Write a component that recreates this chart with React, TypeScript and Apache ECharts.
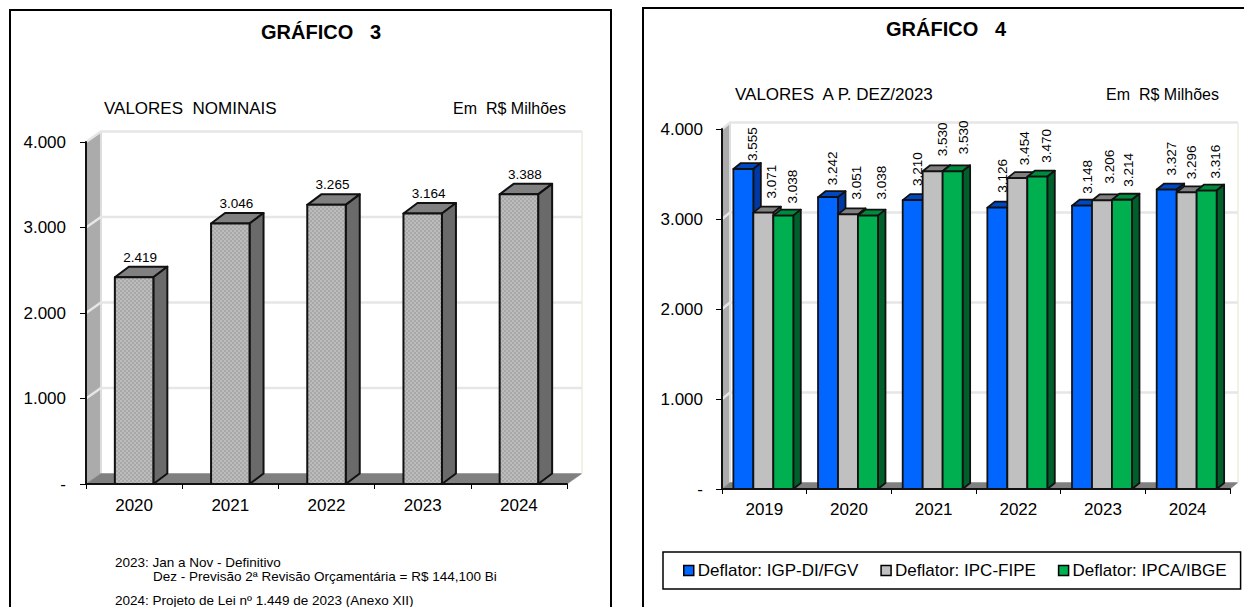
import React, { useEffect, useRef } from "react";
import * as echarts from "echarts";

const yearsNominal = ["2020", "2021", "2022", "2023", "2024"];
const valuesNominal = [2419, 3046, 3265, 3164, 3388];

const yearsReal = ["2019", "2020", "2021", "2022", "2023", "2024"];
const igpDi = [3555, 3242, 3210, 3126, 3148, 3327];
const ipcFipe = [3071, 3051, 3530, 3454, 3206, 3296];
const ipcaIbge = [3038, 3038, 3530, 3470, 3214, 3316];

const yTicks = [0, 1000, 2000, 3000, 4000];

// The reference's rotated labels were placed by hand: small per-label nudges (px).
const igpNudgeX = [9, 4, 5, 5, 5, 5];
const igpGap = [8, 12, 14, 15, 12, 14];
const ipcNudgeX = [8, 8, 10, 7, 7, 5];
const ipcGap = [14, 15, 15, 13, 17, 13];
const ipcaNudgeX = [9, 14, 11, 9, 7, 9];
const ipcaGap = [12, 16, 17, 14, 13, 12];

const FONT = '"Liberation Sans", Arial, sans-serif';
const fmt = (v: number) => (v === 0 ? "-" : String(v).replace(/\B(?=(\d{3})+$)/g, "."));

function dotPattern() {
  const c = document.createElement("canvas");
  c.width = 4;
  c.height = 4;
  const g = c.getContext("2d")!;
  g.fillStyle = "#a8a8a8";
  g.fillRect(0, 0, 4, 4);
  g.fillStyle = "#bcbcbc";
  g.fillRect(0, 0, 2, 2);
  g.fillRect(2, 2, 2, 2);
  return { image: c, repeat: "repeat" };
}

const poly = (points: number[][], fill: any, stroke: string, lineWidth: number) => ({
  type: "polygon",
  shape: { points },
  style: { fill, stroke, lineWidth, lineJoin: "round" },
});

function wallSeries(gridIndex: number, dx: number, dy: number) {
  return {
    type: "custom",
    xAxisIndex: gridIndex,
    yAxisIndex: gridIndex,
    z: 1,
    silent: true,
    clip: false,
    data: [[0, 0]],
    encode: { x: 0, y: 1 },
    renderItem: (params: any, api: any) => {
      const cs = params.coordSys;
      const L = cs.x;
      const R = cs.x + cs.width;
      const T = cs.y;
      const B = cs.y + cs.height;
      const children: any[] = [];
      children.push(poly([[L, T], [L + dx, T - dy], [L + dx, B - dy], [L, B]], "#ababab", "#a0a0a0", 0.5));
      children.push({
        type: "line",
        shape: { x1: L + dx, y1: T - dy, x2: L + dx, y2: B - dy },
        style: { stroke: "#dddddd", lineWidth: 2 },
      });
      children.push(poly([[L, B], [L + dx, B - dy], [R + dx, B - dy], [R, B]], "#808080", "#808080", 0.5));
      children.push({
        type: "line",
        shape: { x1: R + dx, y1: T - dy, x2: R + dx, y2: B - dy },
        style: { stroke: "#f1f1e6", lineWidth: 2 },
      });
      yTicks.slice(1).forEach((t) => {
        const y = api.coord([0, t])[1];
        children.push({
          type: "polyline",
          shape: { points: [[L, y], [L + dx, y - dy], [R + dx, y - dy]] },
          style: { stroke: "#e6e6e6", lineWidth: 2.5, fill: "none" },
        });
      });
      return { type: "group", children };
    },
  };
}

function barSeries(o: {
  name: string;
  values: number[];
  gridIndex: number;
  slot: number;
  slots: number;
  ratio: number;
  shift: number;
  dx: number;
  dy: number;
  front: any;
  legendColor: string;
  top: string;
  side: string;
  lineWidth: number;
  nudgeX?: number[];
  gap?: number[];
}) {
  return {
    type: "custom",
    name: o.name,
    xAxisIndex: o.gridIndex,
    yAxisIndex: o.gridIndex,
    z: 3,
    clip: false,
    silent: true,
    itemStyle: { color: o.legendColor },
    data: o.values.map((v, i) => [i, v]),
    encode: { x: 0, y: 1 },
    renderItem: (p: any, api: any) => {
      const v = api.value(1);
      const i = p.dataIndex;
      const [cx, top] = api.coord([api.value(0), v]);
      const base = api.coord([api.value(0), 0])[1];
      const band = api.size([1, 0])[0];
      const w = band * o.ratio;
      const x0 = cx + o.shift - (o.slots * w) / 2 + o.slot * w;
      const x1 = x0 + w;
      const { dx, dy } = o;
      const label = o.nudgeX
        ? {
            type: "text",
            x: (x0 + x1) / 2 + o.nudgeX[i],
            y: top - o.gap![i],
            rotation: Math.PI / 2,
            style: { text: fmt(v), font: `13.5px ${FONT}`, fill: "#000", align: "left", verticalAlign: "middle" },
          }
        : {
            type: "text",
            x: (x0 + x1) / 2 + 6,
            y: top - 20,
            style: { text: fmt(v), font: `13.5px ${FONT}`, fill: "#000", align: "center", verticalAlign: "middle" },
          };
      return {
        type: "group",
        children: [
          label,
          poly([[x0, top], [x0 + dx, top - dy], [x1 + dx, top - dy], [x1, top]], o.top, "#111", o.lineWidth),
          poly([[x1, top], [x1 + dx, top - dy], [x1 + dx, base - dy], [x1, base]], o.side, "#111", o.lineWidth),
          poly([[x0, top], [x1, top], [x1, base], [x0, base]], o.front, "#111", o.lineWidth),
        ],
      };
    },
  };
}

const xAxisBase = (gridIndex: number, data: string[], margin: number) => ({
  type: "category",
  gridIndex,
  data,
  z: 4,
  axisLine: { show: true, onZero: false, lineStyle: { color: "#111", width: 2 } },
  axisTick: { show: true, length: 5, lineStyle: { color: "#000" } },
  axisLabel: { color: "#000", fontFamily: FONT, fontSize: 17, margin },
  splitLine: { show: false },
});

const yAxisBase = (gridIndex: number, margin: number) => ({
  type: "value",
  gridIndex,
  min: 0,
  max: 4000,
  interval: 1000,
  z: 4,
  axisLine: { show: true, lineStyle: { color: "#111", width: 2 } },
  axisTick: { show: true, length: 6, lineStyle: { color: "#000" } },
  axisLabel: { color: "#000", fontFamily: FONT, fontSize: 17, margin, formatter: fmt },
  splitLine: { show: false },
});

const text = (x: number, y: number, t: string, size = 17, align = "left") => ({
  type: "text",
  x,
  y,
  silent: true,
  style: { text: t, font: `${size}px ${FONT}`, fill: "#000", align, verticalAlign: "middle" },
});

const frame = (x: number, y: number, w: number) => ({
  type: "rect",
  z: -1,
  shape: { x, y, width: w, height: 620 },
  style: { fill: "#fff", stroke: "#000", lineWidth: 2 },
});

export default function App() {
  const ref = useRef<HTMLDivElement>(null);
  useEffect(() => {
    document.body.style.margin = "0";
    const chart = echarts.init(ref.current!, undefined, { renderer: "svg" });
    const pattern = dotPattern();
    const commonLeft = { gridIndex: 0, ratio: 0.4, shift: 0, dx: 14, dy: 10.5, lineWidth: 2 };
    const commonRight = { gridIndex: 1, ratio: 0.236, shift: -1, dx: 7.5, dy: 6, slots: 3, lineWidth: 1.8 };
    const titleStyle = { fontFamily: FONT, fontWeight: "bold", fontSize: 20, color: "#000" };
    chart.setOption({
      animation: false,
      backgroundColor: "#fff",
      title: [
        { text: "GRÁFICO   3", left: 316, top: 17, textAlign: "center", textStyle: titleStyle },
        { text: "GRÁFICO   4", left: 941, top: 14, textAlign: "center", textStyle: titleStyle },
      ],
      grid: [
        { left: 86, top: 142, width: 481, height: 342 },
        { left: 722, top: 129, width: 508, height: 360 },
      ],
      xAxis: [xAxisBase(0, yearsNominal, 13), xAxisBase(1, yearsReal, 12)],
      yAxis: [yAxisBase(0, 20), yAxisBase(1, 19)],
      legend: {
        left: 663,
        top: 552,
        data: ["Deflator: IGP-DI/FGV", "Deflator: IPC-FIPE", "Deflator: IPCA/IBGE"],
        icon: "rect",
        itemWidth: 10,
        itemHeight: 10,
        itemGap: 22,
        padding: [10, 14, 10, 20],
        borderColor: "#000",
        borderWidth: 1.5,
        itemStyle: { borderColor: "#000", borderWidth: 1.5 },
        textStyle: { fontFamily: FONT, fontSize: 17, color: "#000", padding: [2, 0, 0, -1] },
      },
      graphic: [
        frame(10, 10, 601),
        frame(643, 8, 620),
        text(104, 108, "VALORES  NOMINAIS"),
        text(566, 108, "Em  R$ Milhões", 16, "right"),
        text(115, 562, "2023: Jan a Nov - Definitivo", 13.5),
        text(153, 576, "Dez - Previsão 2ª Revisão Orçamentária = R$ 144,100 Bi", 13.5),
        text(115, 600, "2024: Projeto de Lei nº 1.449 de 2023 (Anexo XII)", 13.5),
        text(735, 94, "VALORES  A P. DEZ/2023"),
        text(1219, 94, "Em  R$ Milhões", 16, "right"),
      ],
      series: [
        wallSeries(0, 15, 10.5),
        wallSeries(1, 8, 6.5),
        barSeries({
          ...commonLeft,
          name: "Valores nominais",
          values: valuesNominal,
          slot: 0,
          slots: 1,
          front: pattern,
          legendColor: "#a8a8a8",
          top: "#808080",
          side: "#6a6a6a",
        }),
        barSeries({
          ...commonRight,
          name: "Deflator: IGP-DI/FGV",
          values: igpDi,
          slot: 0,
          nudgeX: igpNudgeX,
          gap: igpGap,
          front: "#0066ff",
          legendColor: "#0066ff",
          top: "#0047c0",
          side: "#0039a6",
        }),
        barSeries({
          ...commonRight,
          name: "Deflator: IPC-FIPE",
          values: ipcFipe,
          slot: 1,
          nudgeX: ipcNudgeX,
          gap: ipcGap,
          front: "#c0c0c0",
          legendColor: "#c0c0c0",
          top: "#808080",
          side: "#606060",
        }),
        barSeries({
          ...commonRight,
          name: "Deflator: IPCA/IBGE",
          values: ipcaIbge,
          slot: 2,
          nudgeX: ipcaNudgeX,
          gap: ipcaGap,
          front: "#00b050",
          legendColor: "#00b050",
          top: "#008a3e",
          side: "#00602c",
        }),
      ],
    });
    return () => chart.dispose();
  }, []);
  return <div ref={ref} style={{ position: "absolute", left: 0, top: 0, width: 1244, height: 607 }} />;
}
